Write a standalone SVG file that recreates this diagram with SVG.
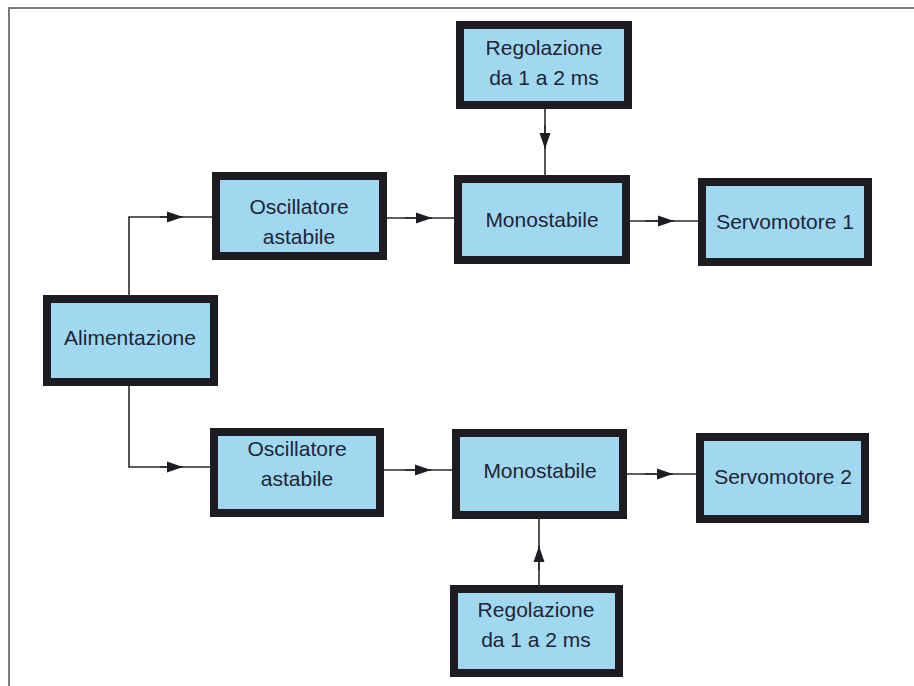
<svg xmlns="http://www.w3.org/2000/svg" width="914" height="686" viewBox="0 0 914 686">
  <style>
    .box { fill: #a0d8ef; stroke: #1e1c20; stroke-width: 8; }
    .lbl { font-family: "Liberation Sans", Arial, sans-serif; font-size: 21px; fill: #222436; text-anchor: middle; }
    .wire { fill: none; stroke: #2a2a2e; stroke-width: 1.6; }
    .tip { fill: none; stroke: #2a2a2e; stroke-width: 1.6; marker-end: url(#arrow); }
    .frame { fill: none; stroke: #7a7a7e; stroke-width: 2; }
  </style>
  <defs>
    <marker id="arrow" markerUnits="userSpaceOnUse" markerWidth="17" markerHeight="12" refX="16" refY="6" orient="auto">
      <path d="M0,0.5 L16,6 L0,11.5 Z" fill="#1e1c20"/>
    </marker>
  </defs>

  <rect width="914" height="686" fill="#ffffff"/>

  <!-- page frame: top rule and left rule -->
  <path class="frame" d="M9,686 V8 H914"/>

  <!-- connectors -->
  <g id="connectors">
    <!-- power supply to upper oscillator -->
    <path class="wire" d="M129,295 V217 H212"/>
    <path class="tip" d="M160,217 H183"/>
    <!-- power supply to lower oscillator -->
    <path class="wire" d="M129,386 V467 H210"/>
    <path class="tip" d="M160,467 H183"/>
    <!-- oscillators to monostables -->
    <path class="wire" d="M387,218 H454"/>
    <path class="tip" d="M405,218 H432"/>
    <path class="wire" d="M384,470 H452"/>
    <path class="tip" d="M405,470 H431"/>
    <!-- monostables to servos -->
    <path class="wire" d="M630,221 H698"/>
    <path class="tip" d="M645,221 H674"/>
    <path class="wire" d="M627,474 H696"/>
    <path class="tip" d="M645,474 H673"/>
    <!-- adjustment blocks to monostables -->
    <path class="wire" d="M545,109 V175"/>
    <path class="tip" d="M545,125 V149"/>
    <path class="wire" d="M539,585 V519"/>
    <path class="tip" d="M539,570 V546"/>
  </g>

  <g id="regolazione1">
    <rect class="box" x="460" y="25" width="168" height="80"/>
    <text class="lbl" x="544" y="55">Regolazione</text>
    <text class="lbl" x="544" y="85">da 1 a 2 ms</text>
  </g>

  <g id="oscillatore1">
    <rect class="box" x="216" y="176" width="167" height="80"/>
    <text class="lbl" x="299" y="214">Oscillatore</text>
    <text class="lbl" x="299" y="244">astabile</text>
  </g>

  <g id="monostabile1">
    <rect class="box" x="458" y="179" width="168" height="81"/>
    <text class="lbl" x="542" y="227">Monostabile</text>
  </g>

  <g id="servomotore1">
    <rect class="box" x="702" y="182" width="166" height="80"/>
    <text class="lbl" x="785" y="229">Servomotore 1</text>
  </g>

  <g id="alimentazione">
    <rect class="box" x="47" y="299" width="167" height="83"/>
    <text class="lbl" x="130" y="345">Alimentazione</text>
  </g>

  <g id="oscillatore2">
    <rect class="box" x="214" y="432" width="166" height="81"/>
    <text class="lbl" x="297" y="456">Oscillatore</text>
    <text class="lbl" x="297" y="486">astabile</text>
  </g>

  <g id="monostabile2">
    <rect class="box" x="456" y="433" width="167" height="82"/>
    <text class="lbl" x="540" y="478">Monostabile</text>
  </g>

  <g id="servomotore2">
    <rect class="box" x="700" y="437" width="165" height="82"/>
    <text class="lbl" x="783" y="484">Servomotore 2</text>
  </g>

  <g id="regolazione2">
    <rect class="box" x="454" y="589" width="165" height="84"/>
    <text class="lbl" x="536" y="617">Regolazione</text>
    <text class="lbl" x="536" y="647">da 1 a 2 ms</text>
  </g>
</svg>
